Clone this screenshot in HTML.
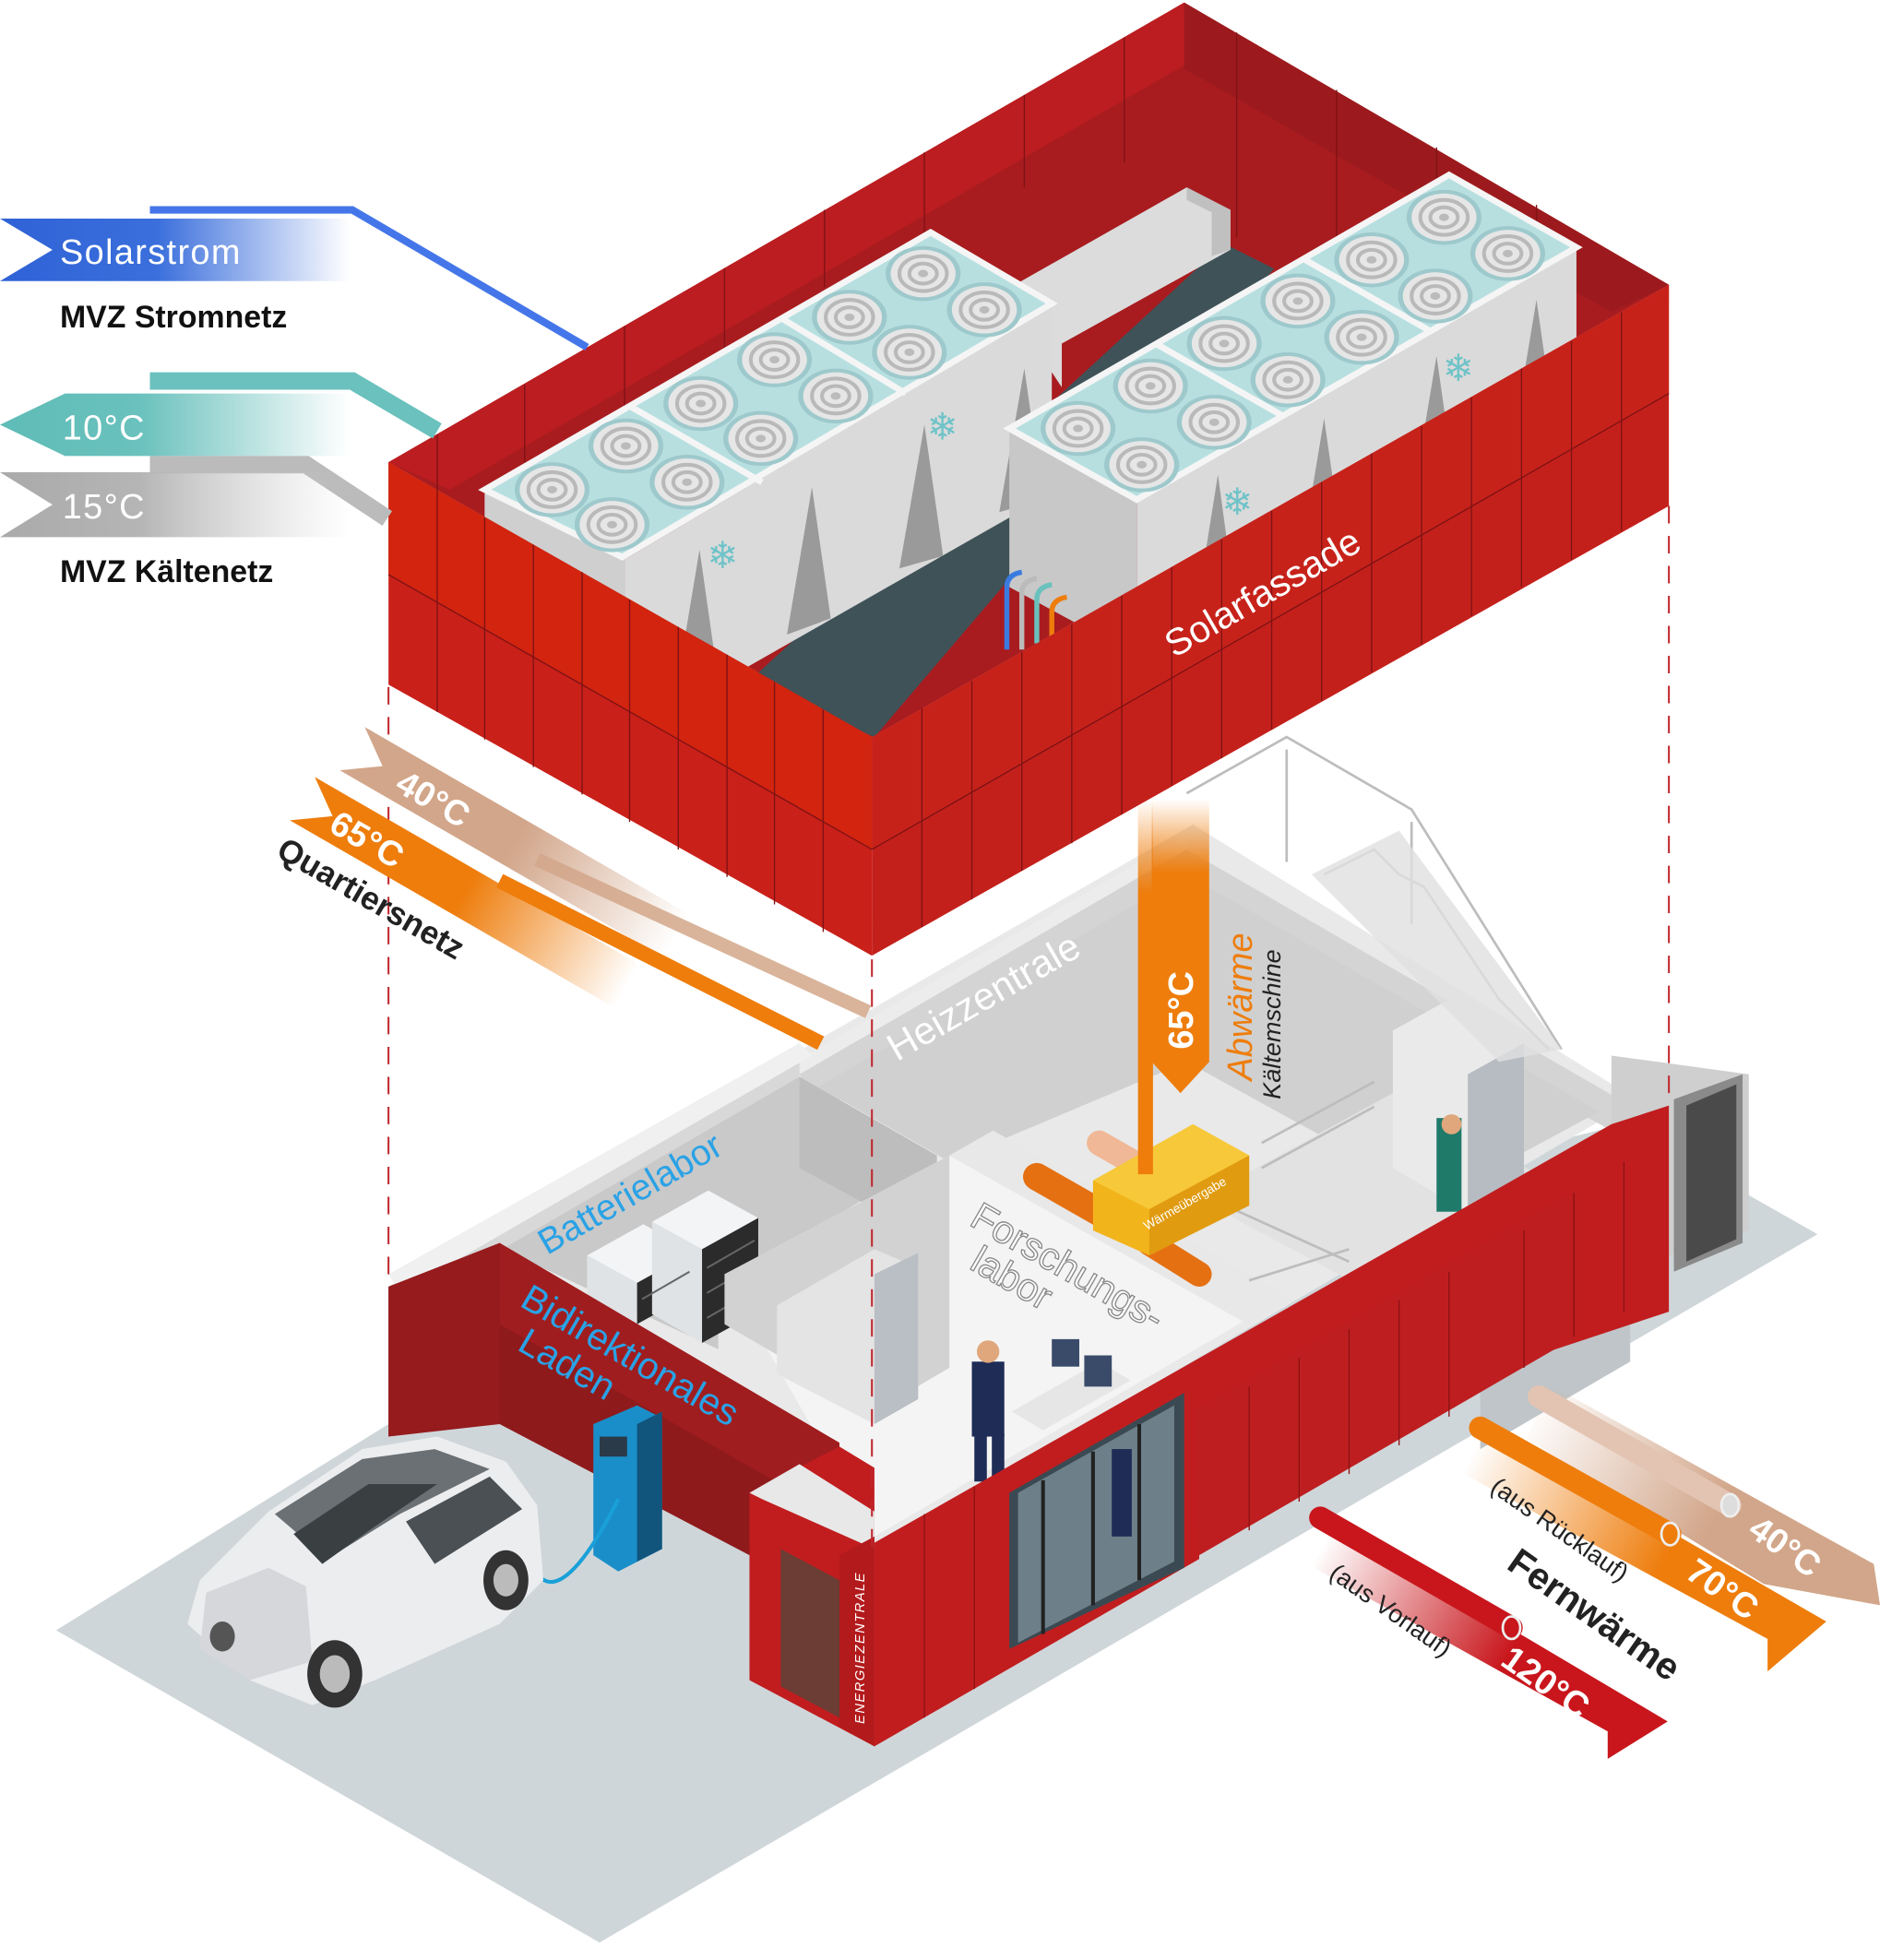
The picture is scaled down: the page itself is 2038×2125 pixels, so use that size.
<!DOCTYPE html>
<html><head><meta charset="utf-8"><style>
html,body{margin:0;padding:0;background:#fff;}
svg{display:block;}
text{font-family:"Liberation Sans","DejaVu Sans",sans-serif;}
</style></head><body>
<svg width="2038" height="2125" viewBox="0 0 1505 1569" preserveAspectRatio="none" xmlns="http://www.w3.org/2000/svg">
<defs>
<linearGradient id="gBlue" x1="0" x2="1"><stop offset="0" stop-color="#2f62d6"/><stop offset="0.45" stop-color="#3b6fdc"/><stop offset="1" stop-color="#3b6fdc" stop-opacity="0"/></linearGradient>
<linearGradient id="gTeal" x1="0" x2="1"><stop offset="0" stop-color="#5fbcb7"/><stop offset="0.4" stop-color="#6ac1bd"/><stop offset="1" stop-color="#6ac1bd" stop-opacity="0"/></linearGradient>
<linearGradient id="gGray" x1="0" x2="1"><stop offset="0" stop-color="#aaa"/><stop offset="0.4" stop-color="#b5b5b5"/><stop offset="1" stop-color="#ccc" stop-opacity="0"/></linearGradient>
<linearGradient id="gTanR" x1="0" x2="1"><stop offset="0" stop-color="#d2a68a"/><stop offset="0.5" stop-color="#d2a68a"/><stop offset="1" stop-color="#d2a68a" stop-opacity="0"/></linearGradient>
<linearGradient id="gOrR" x1="0" x2="1"><stop offset="0" stop-color="#ee7d0c"/><stop offset="0.5" stop-color="#ee7d0c"/><stop offset="1" stop-color="#ee7d0c" stop-opacity="0"/></linearGradient>
<linearGradient id="gTanL" gradientUnits="userSpaceOnUse" x1="1480" y1="1260" x2="1230" y2="1120"><stop offset="0" stop-color="#d2a68a"/><stop offset="0.4" stop-color="#d2a68a"/><stop offset="1" stop-color="#d2a68a" stop-opacity="0"/></linearGradient>
<linearGradient id="gOrL" gradientUnits="userSpaceOnUse" x1="1440" y1="1300" x2="1180" y2="1160"><stop offset="0" stop-color="#ee7d0c"/><stop offset="0.4" stop-color="#ee7d0c"/><stop offset="1" stop-color="#ee7d0c" stop-opacity="0"/></linearGradient>
<linearGradient id="gRedL" gradientUnits="userSpaceOnUse" x1="1310" y1="1380" x2="1060" y2="1235"><stop offset="0" stop-color="#c8161c"/><stop offset="0.4" stop-color="#c8161c"/><stop offset="1" stop-color="#c8161c" stop-opacity="0"/></linearGradient>
<linearGradient id="gVert" x1="0" y1="1" x2="0" y2="0"><stop offset="0" stop-color="#ee7d0c"/><stop offset="0.75" stop-color="#ee7d0c"/><stop offset="1" stop-color="#ee7d0c" stop-opacity="0"/></linearGradient>
<g id="fan"><ellipse rx="30" ry="22" fill="#9ec9cc"/><ellipse rx="26" ry="19" fill="#e6e6e6"/><ellipse rx="19" ry="14" fill="none" stroke="#b9b9b9" stroke-width="3"/><ellipse rx="11" ry="8" fill="none" stroke="#b9b9b9" stroke-width="3"/><ellipse rx="4" ry="3" fill="#bbb"/></g>
</defs>

<polygon points="45,1305 480,1555 1455,988 1300,900 311,1140" fill="#cfd6d9"/>

<!-- lower building -->
<polygon points="311,1030 955,660 1310,880 700,1240" fill="#e9e9e9"/>
<polygon points="640,848 950,668 950,690 640,870" fill="#ececec"/>
<polygon points="640,860 950,680 1305,885 1305,905 1290,905 950,720 655,890" fill="#d4d4d4"/>
<polygon points="655,870 950,700 1280,890 1150,960 950,850 760,930" fill="#d0d0d0"/>
<polygon points="311,1030 640,845 640,935 402,1000" fill="#d8d8d8"/>
<polygon points="311,1020 640,835 650,845 320,1035" fill="#f0f0f0"/>
<polygon points="402,1000 640,862 750,925 575,1030 575,1080" fill="#c9c9c9"/>
<polygon points="640,862 640,935 750,995 750,925" fill="#bdbdbd"/>
<!-- racks -->
<polygon points="470,1005 515,980 555,1002 510,1027" fill="#f2f4f6"/>
<polygon points="470,1005 510,1027 510,1060 470,1038" fill="#dfe3e6"/>
<polygon points="510,1027 555,1002 555,1035 510,1060" fill="#2b2b2b"/>
<polygon points="522,978 567,953 607,975 562,1000" fill="#f2f4f6"/>
<polygon points="522,978 562,1000 562,1075 522,1052" fill="#dfe3e6"/>
<polygon points="562,1000 607,975 607,1050 562,1075" fill="#2b2b2b"/>
<g stroke="#666" stroke-width="1.5"><line x1="514" y1="1040" x2="552" y2="1018"/><line x1="566" y1="1015" x2="604" y2="993"/><line x1="566" y1="1035" x2="604" y2="1013"/><line x1="566" y1="1055" x2="604" y2="1033"/></g>
<!-- research lab -->
<polygon points="580,1020 760,925 995,1058 700,1230" fill="#f4f4f4"/>
<polygon points="760,925 760,1095 700,1130 580,1060 580,1020" fill="#d2d2d2"/>
<polygon points="622,1045 700,1000 735,1015 735,1120 700,1140 622,1100" fill="#e4e4e4"/>
<polygon points="700,1020 735,1003 735,1120 700,1140" fill="#b9bfc4"/>
<polygon points="760,925 1000,1060 1035,1040 795,905" fill="#e8e8e8"/>
<polygon points="810,1130 880,1090 905,1105 835,1145" fill="#e6e6e6"/>
<rect x="842" y="1072" width="22" height="22" fill="#3a4b6a"/><rect x="868" y="1085" width="22" height="25" fill="#3a4b6a"/>
<rect x="778" y="1090" width="26" height="60" fill="#1e2c56"/><rect x="780" y="1148" width="10" height="38" fill="#1e2c56"/><rect x="794" y="1148" width="10" height="36" fill="#1e2c56"/>
<circle cx="791" cy="1082" r="9" fill="#e0a77c"/>
<polygon points="960,960 1115,875 1240,945 1090,1030" fill="#e2e2e2"/>
<polygon points="1115,825 1160,800 1220,835 1220,945 1175,970 1115,935" fill="#eaeaea"/>
<polygon points="1175,860 1220,835 1220,945 1175,970" fill="#b6bcc2"/>
<rect x="1150" y="895" width="20" height="75" fill="#1f7a6a"/><circle cx="1162" cy="900" r="8" fill="#e0a77c"/>
<g stroke="#bdbdbd" stroke-width="2" fill="none">
<polyline points="950,635 1030,590 1130,648 1250,840"/>
<polyline points="1030,600 1030,690"/><polyline points="1130,658 1130,740"/>
<polyline points="1060,700 1100,680 1120,700 1140,710 1160,740 1180,770 1200,800 1240,840"/>
<polyline points="1010,915 1100,866"/><polyline points="1010,935 1100,886"/>
<polyline points="1000,1025 1080,1000"/><polyline points="970,960 1080,1010"/>
</g>
<polygon points="1050,700 1120,665 1250,840 1200,850" fill="#e0e0e0" opacity="0.8"/>
<polygon points="1290,845 1400,860 1400,985 1290,1020" fill="#cfcfcf"/>
<polygon points="1340,880 1395,860 1395,995 1340,1018" fill="#8a8a8a"/>
<polygon points="1350,885 1390,868 1390,992 1350,1010" fill="#4a4a4a"/>
<polygon points="1185,1030 1305,960 1305,1090 1185,1160" fill="#bfc5c9"/>

<g stroke-linecap="round">
<line x1="830" y1="942" x2="900" y2="982" stroke="#e57012" stroke-width="22"/>
<line x1="880" y1="915" x2="950" y2="955" stroke="#f0b896" stroke-width="20"/>
<line x1="920" y1="995" x2="960" y2="1020" stroke="#e57012" stroke-width="20"/>
</g>
<polygon points="875,945 955,900 1000,925 1000,965 920,1005 875,985" fill="#f2b41b"/>
<polygon points="875,945 955,900 1000,925 920,968" fill="#f7c93a"/>
<polygon points="920,968 1000,925 1000,965 920,1005" fill="#e09b10"/>
<text transform="translate(918,985) rotate(-30)" font-size="10" fill="#fff">Wärmeübergabe</text>
<rect x="911" y="640" width="12" height="300" fill="url(#gVert)"/>
<polygon points="922,640 968,640 968,850 945,875 922,850" fill="url(#gVert)"/>
<text transform="translate(955,840) rotate(-90)" font-size="28" font-weight="bold" fill="#fff">65°C</text>
<text transform="translate(1002,865) rotate(-90)" font-size="28" font-style="italic" fill="#ee7d0c">Abwärme</text>
<text transform="translate(1025,880) rotate(-90)" font-size="20" font-style="italic" fill="#222">Kältemschine</text>

<text transform="translate(718,850) rotate(-30)" font-size="31" fill="#fff">Heizzentrale</text>
<text transform="translate(438,1005) rotate(-30)" font-size="29" fill="#2aa2e6">Batterielabor</text>
<text transform="translate(775,980) rotate(30)" font-size="31" fill="#fff" stroke="#8a8a8a" stroke-width="1">Forschungs-</text>
<text transform="translate(775,1015) rotate(30)" font-size="31" fill="#fff" stroke="#8a8a8a" stroke-width="1">labor</text>

<polygon points="700,1235 955,1090 1290,900 1336,885 1336,1050 1185,1100 1185,1030 960,1160 960,1248 700,1398" fill="#c11d1f"/>
<polygon points="955,1130 1262,952 1262,1070 960,1245" fill="#be1e20"/>
<g stroke="#8e1214" stroke-width="1">
<line x1="1000" y1="1110" x2="1000" y2="1225"/><line x1="1040" y1="1087" x2="1040" y2="1202"/><line x1="1080" y1="1064" x2="1080" y2="1180"/><line x1="1120" y1="1041" x2="1120" y2="1157"/><line x1="1160" y1="1018" x2="1160" y2="1134"/><line x1="1220" y1="985" x2="1220" y2="1095"/><line x1="1260" y1="955" x2="1260" y2="1070"/><line x1="1300" y1="930" x2="1300" y2="1050"/>
<line x1="740" y1="1212" x2="740" y2="1375"/><line x1="780" y1="1190" x2="780" y2="1352"/>
</g>
<polygon points="808,1195 948,1115 948,1255 808,1320" fill="#3b4a52"/>
<polygon points="815,1195 940,1125 940,1250 815,1315" fill="#8fa3ad" opacity="0.6"/>
<g stroke="#222" stroke-width="3"><line x1="835" y1="1185" x2="835" y2="1308"/><line x1="875" y1="1162" x2="875" y2="1285"/><line x1="912" y1="1140" x2="912" y2="1265"/></g>
<rect x="890" y="1160" width="16" height="70" fill="#1e2c56"/>
<polygon points="311,1030 400,995 672,1155 672,1200 600,1195 600,1345 400,1240 311,1190" fill="#8f1a1c"/>
<polygon points="400,995 672,1155 672,1215 400,1060" fill="#a01d1f"/>
<polygon points="311,1030 400,995 400,1145 311,1150" fill="#951b1d"/>
<text transform="translate(415,1045) rotate(30)" font-size="30" fill="#2aa2e6">Bidirektionales</text>
<text transform="translate(413,1080) rotate(30)" font-size="30" fill="#2aa2e6">Laden</text>
<polygon points="311,1150 400,1140 600,1245 600,1345 480,1555 45,1305" fill="#cfd6d9"/>
<polygon points="600,1195 672,1158 700,1175 700,1398 600,1345" fill="#c11d1f"/>
<polygon points="600,1195 640,1172 700,1210 700,1240 610,1200" fill="#e8e8e8"/>
<polygon points="625,1240 672,1265 672,1375 625,1350" fill="#6b3d35"/>
<polygon points="672,1245 700,1230 700,1398 672,1382" fill="#b31a1c"/>
<text transform="translate(692,1380) rotate(-90)" font-size="11" font-style="italic" fill="#fff" letter-spacing="1">ENERGIEZENTRALE</text>
<polygon points="475,1140 510,1125 530,1135 530,1240 495,1258 475,1245" fill="#1a8ec9"/>
<polygon points="510,1140 530,1130 530,1240 510,1250" fill="#11547c"/>
<rect x="480" y="1150" width="22" height="16" fill="#2a3a48"/>
<path d="M495,1200 C470,1250 440,1290 425,1250" stroke="#1aa0d8" stroke-width="3" fill="none"/>
<!-- car -->
<path d="M150,1300 L160,1265 L215,1210 L290,1160 L350,1150 L405,1170 L430,1205 L435,1265 L400,1300 L300,1345 L250,1365 L200,1345 Z" fill="#ecedef"/>
<path d="M220,1212 L290,1168 L348,1160 L392,1176 L320,1212 L262,1248 Z" fill="#6a7074"/>
<path d="M235,1228 L295,1188 L350,1188 L300,1222 L258,1252 Z" fill="#3a3f42"/>
<path d="M325,1218 L392,1182 L418,1208 L348,1252 Z" fill="#4a5054"/>
<path d="M165,1275 L215,1255 L245,1270 L250,1330 L200,1345 L160,1320 Z" fill="#d5d7da"/>
<ellipse cx="268" cy="1340" rx="22" ry="27" fill="#333"/><ellipse cx="268" cy="1340" rx="12" ry="15" fill="#bbb"/>
<ellipse cx="405" cy="1265" rx="18" ry="24" fill="#333"/><ellipse cx="405" cy="1265" rx="10" ry="13" fill="#bbb"/>
<ellipse cx="178" cy="1310" rx="10" ry="12" fill="#555"/>

<g stroke="#c0272d" stroke-width="1.5" stroke-dasharray="14,10">
<line x1="311" y1="550" x2="311" y2="1030"/>
<line x1="698" y1="768" x2="698" y2="1240"/>
<line x1="1336" y1="405" x2="1336" y2="885"/>
</g>

<!-- top box -->
<polygon points="311,370 948,2 1336,228 698,590" fill="#a81c1f"/>
<polygon points="311,370 948,2 990,28 360,392" fill="#bb1d20"/>
<polygon points="948,2 1336,228 1290,250 948,55" fill="#9c1a1d"/>
<g stroke="#7f1215" stroke-width="1">
<line x1="350" y1="348" x2="350" y2="395"/><line x1="420" y1="308" x2="420" y2="370"/><line x1="500" y1="261" x2="500" y2="330"/><line x1="580" y1="215" x2="580" y2="290"/><line x1="660" y1="168" x2="660" y2="230"/><line x1="740" y1="122" x2="740" y2="200"/><line x1="820" y1="76" x2="820" y2="150"/><line x1="900" y1="30" x2="900" y2="130"/>
<line x1="990" y1="26" x2="990" y2="190"/><line x1="1070" y1="72" x2="1070" y2="190"/><line x1="1150" y1="118" x2="1150" y2="160"/><line x1="1230" y1="164" x2="1230" y2="210"/>
</g>
<polygon points="600,545 980,195 1020,215 700,590" fill="#3f5258"/>
<polygon points="800,235 950,150 985,168 985,200 850,275 850,310" fill="#dcdcdc"/>
<polygon points="950,150 985,168 985,200 970,205 970,170 950,160" fill="#c0c0c0"/>
<polygon points="388,395 745,188 842,245 500,448 500,560 440,530 388,500" fill="#e3e3e3"/>
<polygon points="500,448 842,245 842,395 500,590" fill="#dadada"/>
<polygon points="388,395 500,448 500,590 388,525" fill="#cfcfcf"/>
<polygon points="540,560 560,440 575,545" fill="#9a9a9a"/><polygon points="630,508 650,390 665,495" fill="#9a9a9a"/><polygon points="720,455 740,340 755,445" fill="#9a9a9a"/><polygon points="800,410 820,295 835,400" fill="#9a9a9a"/>
<polygon points="388,392 745,186 842,243 498,446" fill="#b7dfe0" stroke="#f5f5f5" stroke-width="5"/>
<line x1="504" y1="325" x2="610" y2="386" stroke="#f5f5f5" stroke-width="5"/><line x1="626" y1="255" x2="725" y2="315" stroke="#f5f5f5" stroke-width="5"/>
<polygon points="808,345 1160,142 1262,200 910,402" fill="#e3e3e3"/>
<polygon points="910,402 1262,200 1262,330 1250,330 910,525" fill="#dadada"/>
<polygon points="808,345 910,402 910,525 808,470" fill="#c8c8c8"/>
<polygon points="955,505 975,380 990,490" fill="#9a9a9a"/><polygon points="1040,455 1060,335 1075,440" fill="#9a9a9a"/><polygon points="1130,405 1150,285 1165,390" fill="#9a9a9a"/><polygon points="1210,360 1230,240 1245,345" fill="#9a9a9a"/>
<polygon points="808,343 1160,140 1262,198 910,400" fill="#b7dfe0" stroke="#f5f5f5" stroke-width="5"/>
<line x1="925" y1="275" x2="1027" y2="333" stroke="#f5f5f5" stroke-width="5"/><line x1="1043" y1="207" x2="1145" y2="265" stroke="#f5f5f5" stroke-width="5"/>
<use href="#fan" x="442" y="392"/><use href="#fan" x="501" y="357"/><use href="#fan" x="561" y="323"/><use href="#fan" x="620" y="288"/><use href="#fan" x="680" y="254"/><use href="#fan" x="739" y="219"/>
<use href="#fan" x="490" y="420"/><use href="#fan" x="550" y="386"/><use href="#fan" x="609" y="351"/><use href="#fan" x="669" y="317"/><use href="#fan" x="728" y="282"/><use href="#fan" x="788" y="248"/>
<use href="#fan" x="863" y="343"/><use href="#fan" x="921" y="309"/><use href="#fan" x="980" y="275"/><use href="#fan" x="1039" y="241"/><use href="#fan" x="1098" y="208"/><use href="#fan" x="1156" y="174"/>
<use href="#fan" x="914" y="372"/><use href="#fan" x="972" y="338"/><use href="#fan" x="1031" y="304"/><use href="#fan" x="1090" y="270"/><use href="#fan" x="1149" y="237"/><use href="#fan" x="1207" y="203"/>
<g font-size="30" fill="#6fc3c8"><text x="566" y="455">❄</text><text x="742" y="352">❄</text><text x="978" y="412">❄</text><text x="1155" y="305">❄</text></g>
<g fill="none" stroke-width="4"><path d="M806,520 V470 q0,-10 12,-12" stroke="#3a7be0"/><path d="M818,520 V475 q0,-10 12,-12" stroke="#bbb"/><path d="M830,515 V480 q0,-10 12,-12" stroke="#6ac1bd"/><path d="M842,510 V490 q0,-10 12,-12" stroke="#ee7d0c"/></g>
<polygon points="311,370 698,590 698,765 311,548" fill="#c92019"/>
<polygon points="311,370 698,590 698,680 311,460" fill="#d2240f"/>
<polygon points="698,590 1336,228 1336,405 698,765" fill="#c4201b"/>
<polygon points="698,590 1336,228 1336,315 698,680" fill="#c7221a"/>
<g stroke="#7f1215" stroke-width="1">
<line x1="311" y1="460" x2="698" y2="680"/><line x1="698" y1="680" x2="1336" y2="315"/>
<line x1="350" y1="392" x2="350" y2="570"/><line x1="388" y1="414" x2="388" y2="592"/><line x1="427" y1="436" x2="427" y2="614"/><line x1="466" y1="458" x2="466" y2="636"/><line x1="504" y1="480" x2="504" y2="658"/><line x1="543" y1="502" x2="543" y2="680"/><line x1="582" y1="524" x2="582" y2="702"/><line x1="620" y1="546" x2="620" y2="724"/><line x1="659" y1="568" x2="659" y2="746"/>
<line x1="738" y1="567" x2="738" y2="742"/><line x1="778" y1="545" x2="778" y2="720"/><line x1="818" y1="522" x2="818" y2="697"/><line x1="858" y1="500" x2="858" y2="675"/><line x1="898" y1="477" x2="898" y2="652"/><line x1="938" y1="454" x2="938" y2="629"/><line x1="978" y1="432" x2="978" y2="607"/><line x1="1018" y1="409" x2="1018" y2="584"/><line x1="1058" y1="386" x2="1058" y2="561"/><line x1="1098" y1="363" x2="1098" y2="538"/><line x1="1138" y1="341" x2="1138" y2="516"/><line x1="1178" y1="318" x2="1178" y2="493"/><line x1="1218" y1="295" x2="1218" y2="470"/><line x1="1258" y1="273" x2="1258" y2="448"/><line x1="1298" y1="250" x2="1298" y2="425"/>
</g>
<text transform="translate(940,527) rotate(-30)" font-size="30" fill="#fff">Solarfassade</text>

<!-- left legend -->
<path d="M120,168 H282 L470,278" stroke="#3b6fe8" stroke-width="6" fill="none" opacity="0.95"/>
<polygon points="0,175 280,175 280,225 0,225 42,200" fill="url(#gBlue)"/>
<text x="48" y="211" font-size="28" fill="#fff" letter-spacing="1">Solarstrom</text>
<text x="48" y="262" font-size="25" font-weight="bold" fill="#111">MVZ Stromnetz</text>
<path d="M120,305 H282 L350,345" stroke="#6ac1bd" stroke-width="14" fill="none"/>
<polygon points="0,340 52,315 280,315 280,365 52,365" fill="url(#gTeal)"/>
<text x="50" y="352" font-size="28" fill="#fff" letter-spacing="1">10°C</text>
<path d="M120,372 H245 L310,415" stroke="#bbb" stroke-width="14" fill="none"/>
<polygon points="0,378 280,378 280,430 0,430 42,404" fill="url(#gGray)"/>
<text x="50" y="415" font-size="28" fill="#fff" letter-spacing="1">15°C</text>
<text x="48" y="466" font-size="25" font-weight="bold" fill="#111">MVZ Kältenetz</text>

<!-- Quartiersnetz -->
<line x1="430" y1="688" x2="695" y2="810" stroke="#d9b49a" stroke-width="11"/>
<line x1="400" y1="705" x2="657" y2="835" stroke="#ee7d0c" stroke-width="12"/>
<g transform="translate(292,582) rotate(30)">
<polygon points="0,0 300,0 300,40 0,40 28,20" fill="url(#gTanR)"/>
<text x="45" y="32" font-size="28" fill="#fff" font-weight="bold">40°C</text>
</g>
<g transform="translate(252,622) rotate(30)">
<polygon points="0,0 300,0 300,40 0,40 28,20" fill="url(#gOrR)"/>
<text x="30" y="32" font-size="28" fill="#fff" font-weight="bold">65°C</text>
</g>
<text transform="translate(220,685) rotate(30)" font-size="26" font-weight="bold" fill="#222">Quartiersnetz</text>

<!-- Fernwärme -->
<polygon points="1240,1108 1500,1252 1505,1285 1412,1268 1222,1152" fill="url(#gTanL)"/>
<polygon points="1188,1140 1462,1298 1415,1338 1415,1312 1172,1180" fill="url(#gOrL)"/>
<polygon points="1060,1215 1335,1378 1287,1408 1287,1386 1052,1255" fill="url(#gRedL)"/>
<g stroke-linecap="round">
<line x1="1232" y1="1118" x2="1385" y2="1205" stroke="#e3c4b2" stroke-width="18"/>
<line x1="1185" y1="1143" x2="1337" y2="1228" stroke="#ee7d0c" stroke-width="18"/>
<line x1="1057" y1="1215" x2="1210" y2="1303" stroke="#c8161c" stroke-width="18"/>
</g>
<ellipse cx="1385" cy="1205" rx="7" ry="9" fill="#ddd" stroke="#eee" stroke-width="2"/>
<ellipse cx="1337" cy="1228" rx="7" ry="9" fill="#ee7d0c" stroke="#eee" stroke-width="2"/>
<ellipse cx="1210" cy="1303" rx="7" ry="9" fill="#c8161c" stroke="#eee" stroke-width="2"/>
<text transform="translate(1398,1228) rotate(35)" font-size="28" fill="#fff" font-weight="bold">40°C</text>
<text transform="translate(1348,1262) rotate(35)" font-size="28" fill="#fff" font-weight="bold">70°C</text>
<text transform="translate(1200,1332) rotate(35)" font-size="28" fill="#fff" font-weight="bold">120°C</text>
<text transform="translate(1192,1193) rotate(35)" font-size="20" fill="#222">(aus Rücklauf)</text>
<text transform="translate(1063,1262) rotate(35)" font-size="20" fill="#222">(aus Vorlauf)</text>
<text transform="translate(1205,1255) rotate(35)" font-size="30" font-weight="bold" fill="#222">Fernwärme</text>
</svg>
</body></html>
